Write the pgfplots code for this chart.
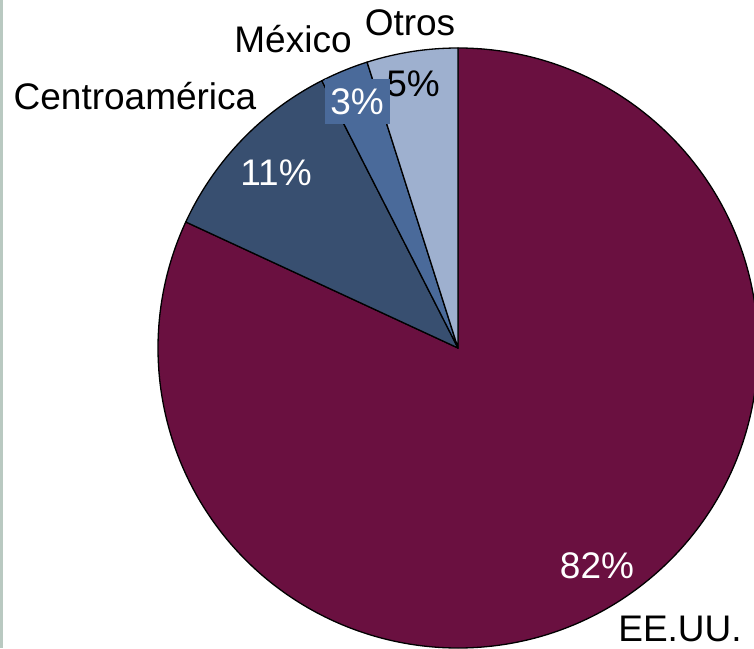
\documentclass[border=0pt]{standalone}
\usepackage{fontspec}
\setmainfont{Liberation Sans}
\usepackage{pgfplots}
\usepackage{pgfplotstable}
\pgfplotsset{compat=1.18}

\definecolor{slice0}{HTML}{6A1040}
\definecolor{slice1}{HTML}{384F70}
\definecolor{slice2}{HTML}{4A6A9A}
\definecolor{slice3}{HTML}{9EB0CF}
\definecolor{frameline}{HTML}{B9C9C1}

\tikzset{lbl/.style={font=\fontsize{37}{40}\selectfont}}

% share of each region, in percent
\pgfplotstableread{
label value
EE.UU. 81.9
Centroamérica 10.6
México 2.6
Otros 4.9
}\piedata

\begin{document}
\begin{tikzpicture}
\begin{axis}[
    x=1pt, y=1pt,
    xmin=0, xmax=754, ymin=0, ymax=648,
    hide axis,
    clip=true,
]
\fill[frameline] (axis cs:0,0) rectangle (axis cs:2.5,648);

\def\angle{90}
\pgfplotsforeachungrouped \i in {0,...,3}{
    \pgfplotstablegetelem{\i}{value}\of\piedata
    \pgfmathsetmacro\sweep{3.6*\pgfplotsretval}
    \pgfmathsetmacro\endangle{\angle-\sweep}
    \edef\temp{\noexpand\filldraw[fill=slice\i, draw=black, line width=1.3pt, line join=round]
        (axis cs:458,300) -- ++(\angle:300pt)
        arc[start angle=\angle, end angle=\endangle, radius=300pt] -- cycle;}
    \temp
    \global\let\angle\endangle
}

% category labels
\node[lbl, anchor=base] at (axis cs:410,612) {Otros};
\node[lbl, anchor=base] at (axis cs:293,595) {México};
\node[lbl, anchor=base] at (axis cs:135,538) {Centroamérica};
\node[lbl, anchor=base] at (axis cs:680,7) {EE.UU.};

% percentages
\node[lbl, anchor=base] at (axis cs:413,551) {5\%};
\node[lbl, fill=slice2, text=white, inner sep=0pt, minimum width=65pt, minimum height=45pt]
    at (axis cs:357,546) {3\%};
\node[lbl, anchor=base, text=white] at (axis cs:276,462) {11\%};
\node[lbl, anchor=base, text=white] at (axis cs:597,70) {82\%};
\end{axis}
\end{tikzpicture}
\end{document}
